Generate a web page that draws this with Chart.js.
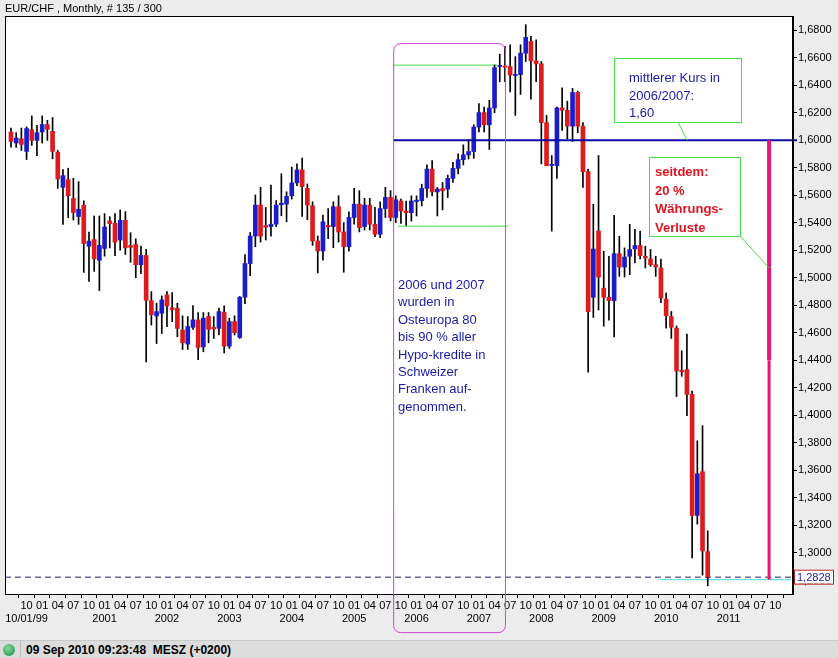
<!DOCTYPE html>
<html>
<head>
<meta charset="utf-8">
<script src="https://cdn.jsdelivr.net/npm/chart.js@4/dist/chart.umd.min.js"></script>
<style>
  body { margin: 0; width: 838px; height: 658px; background: #ececec; overflow: hidden; font-family: "Liberation Sans", Arial, sans-serif; }
  #wrap { position: absolute; left: 0; top: 0; width: 838px; height: 640px; }
  #head { position: absolute; left: 5px; top: 2px; font-size: 11px; color: #000; }
  #status { position: absolute; left: 0; top: 640px; width: 838px; height: 18px; background: #dcdcdc; border-top: 1px solid #c8c8c8; }
  #dot { position: absolute; left: 3px; top: 3px; width: 12px; height: 12px; border-radius: 50%; background: radial-gradient(circle at 40% 35%, #7fd99a, #1f8a45); }
  #stext { position: absolute; left: 26px; top: 2px; font-size: 12px; font-weight: bold; }
  #sep { position: absolute; left: 20px; top: 0; width: 1px; height: 18px; background: #bbb; }
</style>
</head>
<body>
<div id="wrap"><canvas id="chart" width="838" height="640"></canvas></div>
<div id="head">EUR/CHF , Monthly, # 135 / 300</div>
<div id="status"><div id="dot"></div><div id="sep"></div><div id="stext">09 Sep 2010 09:23:48&nbsp; MESZ (+0200)</div></div>
<script>
// monthly candles, index 0 = Jul 1999
const opens = [1.6059,1.5979,1.6010,1.5918,1.6076,1.5998,1.6059,1.6113,1.6064,1.5913,
  1.5657,1.5713,1.5576,1.5445,1.5527,1.5229,1.5278,1.5127,1.5213,1.5413,
  1.5395,1.5274,1.5418,1.5230,1.5242,1.5095,1.5162,1.4834,1.4722,1.4742,
  1.4876,1.4778,1.4778,1.4620,1.4518,1.4640,1.4694,1.4498,1.4718,1.4635,
  1.4632,1.4750,1.4503,1.4681,1.4566,1.4859,1.5103,1.5303,1.5528,1.5375,
  1.5372,1.5389,1.5535,1.5535,1.5596,1.5689,1.5784,1.5650,1.5523,1.5267,
  1.5194,1.5377,1.5372,1.5516,1.5333,1.5225,1.5438,1.5535,1.5372,1.5528,
  1.5389,1.5316,1.5503,1.5584,1.5438,1.5558,1.5485,1.5473,1.5558,1.5560,
  1.5649,1.5790,1.5624,1.5644,1.5644,1.5722,1.5795,1.5858,1.5893,1.5917,
  1.6095,1.6200,1.6112,1.6234,1.6539,1.6539,1.6534,1.6473,1.6476,1.6632,
  1.6717,1.6576,1.6554,1.6127,1.5820,1.5815,1.6234,1.6217,1.6102,1.6346,
  1.6102,1.5771,1.4858,1.5339,1.4924,1.4858,1.4834,1.5175,1.5078,1.5156,
  1.5210,1.5234,1.5156,1.5136,1.5095,1.5071,1.4845,1.4718,1.4633,1.4323,
  1.4333,1.4152,1.3273,1.3591,1.3010];
const closes = [1.5991,1.6015,1.5969,1.6084,1.5998,1.6054,1.6113,1.6079,1.5918,1.5718,
  1.5742,1.5596,1.5474,1.5498,1.5249,1.5266,1.5137,1.5235,1.5369,1.5393,
  1.5259,1.5418,1.5218,1.5225,1.5095,1.5162,1.4836,1.4731,1.4754,1.4839,
  1.4795,1.4771,1.4632,1.4527,1.4645,1.4694,1.4494,1.4706,1.4625,1.4632,
  1.4754,1.4503,1.4681,1.4601,1.4859,1.5103,1.5303,1.5528,1.5303,1.5372,
  1.5389,1.5528,1.5538,1.5591,1.5689,1.5784,1.5662,1.5528,1.5267,1.5194,
  1.5406,1.5374,1.5516,1.5333,1.5225,1.5438,1.5535,1.5364,1.5528,1.5389,
  1.5316,1.5503,1.5584,1.5438,1.5567,1.5485,1.5473,1.5558,1.5560,1.5649,
  1.5790,1.5624,1.5644,1.5636,1.5722,1.5795,1.5858,1.5893,1.5917,1.6095,
  1.6200,1.6112,1.6234,1.6527,1.6539,1.6530,1.6473,1.6473,1.6632,1.6747,
  1.6576,1.6554,1.6127,1.5815,1.5820,1.6234,1.6217,1.6102,1.6346,1.6102,
  1.5771,1.4753,1.5209,1.5005,1.4858,1.4834,1.5175,1.5078,1.5151,1.5205,
  1.5234,1.5161,1.5144,1.5095,1.5078,1.4852,1.4723,1.4640,1.4323,1.4320,
  1.4152,1.3273,1.3576,1.3015,1.2827];
const highs = [1.6088,1.6054,1.6088,1.6096,1.6176,1.6108,1.6176,1.6144,1.6164,1.5925,
  1.5786,1.5796,1.5723,1.5698,1.5559,1.5332,1.5449,1.5449,1.5466,1.5444,
  1.5466,1.5493,1.5481,1.5327,1.5283,1.5230,1.5206,1.4900,1.4815,1.4868,
  1.4900,1.4893,1.4815,1.4723,1.4718,1.4798,1.4747,1.4747,1.4747,1.4718,
  1.4779,1.4796,1.4706,1.4723,1.4864,1.5169,1.5328,1.5601,1.5657,1.5511,
  1.5674,1.5560,1.5755,1.5625,1.5804,1.5828,1.5870,1.5682,1.5552,1.5303,
  1.5455,1.5503,1.5552,1.5596,1.5401,1.5479,1.5650,1.5633,1.5577,1.5577,
  1.5511,1.5552,1.5657,1.5633,1.5596,1.5571,1.5558,1.5595,1.5595,1.5680,
  1.5820,1.5851,1.5656,1.5692,1.5746,1.5839,1.5900,1.5966,1.6005,1.6112,
  1.6266,1.6241,1.6290,1.6546,1.6625,1.6681,1.6693,1.6607,1.6693,1.6839,
  1.6754,1.6729,1.6571,1.6180,1.5888,1.6241,1.6380,1.6283,1.6376,1.6356,
  1.6127,1.5790,1.5534,1.5888,1.5192,1.5156,1.5454,1.5302,1.5217,1.5388,
  1.5351,1.5339,1.5229,1.5205,1.5156,1.5136,1.4889,1.4755,1.4650,1.4469,
  1.4591,1.4176,1.3815,1.3925,1.3161];
const lows = [1.5949,1.5947,1.5925,1.5859,1.5962,1.5888,1.5979,1.5998,1.5864,1.5649,
  1.5388,1.5437,1.5420,1.5388,1.5039,1.4973,1.5047,1.4907,1.5157,1.5217,
  1.5161,1.5200,1.5169,1.5112,1.5000,1.5030,1.4388,1.4656,1.4522,1.4595,
  1.4644,1.4681,1.4571,1.4479,1.4479,1.4625,1.4405,1.4462,1.4527,1.4559,
  1.4584,1.4454,1.4486,1.4584,1.4559,1.4811,1.5015,1.5225,1.5259,1.5274,
  1.5303,1.5372,1.5450,1.5406,1.5572,1.5669,1.5445,1.5421,1.5235,1.5035,
  1.5128,1.5284,1.5218,1.5259,1.5040,1.5194,1.5389,1.5333,1.5347,1.5347,
  1.5299,1.5291,1.5438,1.5413,1.5401,1.5395,1.5380,1.5412,1.5449,1.5522,
  1.5583,1.5595,1.5449,1.5493,1.5583,1.5692,1.5754,1.5820,1.5863,1.5868,
  1.6059,1.6059,1.5932,1.6200,1.6424,1.6424,1.6351,1.6180,1.6332,1.6571,
  1.6298,1.6424,1.5827,1.5815,1.5339,1.5722,1.6071,1.6010,1.5990,1.6054,
  1.5656,1.4314,1.4712,1.4766,1.4648,1.4692,1.4570,1.5010,1.5005,1.5022,
  1.5107,1.5136,1.5071,1.5083,1.5010,1.4819,1.4633,1.4559,1.4137,1.4284,
  1.3998,1.2964,1.3210,1.2839,1.2761];

const lastPrice = 1.2828;
const avgLevel = 1.60;
const monthNames = ["01","02","03","04","05","06","07","08","09","10","11","12"];
const startYear = 1999, startMonth = 6; // Jul
const yTickStep = 0.02;

const RED = "#dc1c1c", BLUE = "#1c1cc8";
const colors = opens.map((o, i) => closes[i] >= o ? BLUE : RED);
const wicks = opens.map((o, i) => ({ x: i, y: [lows[i], highs[i]] }));
const bodies = opens.map((o, i) => {
  let a = Math.min(o, closes[i]), b = Math.max(o, closes[i]);
  if (b - a < 0.0008) { a -= 0.0004; b += 0.0004; }
  return { x: i, y: [a, b] };
});

function monthOf(i) { return (startMonth + i) % 12; }
function yearOf(i) { return startYear + Math.floor((startMonth + i) / 12); }

const overlay = {
  id: "overlay",
  beforeDraw(chart) {
    const { ctx, chartArea: a } = chart;
    ctx.save();
    ctx.fillStyle = "#fff";
    ctx.fillRect(a.left, a.top, a.right - a.left, a.bottom - a.top);
    ctx.restore();
  },
  beforeDatasetsDraw(chart) {
    const { ctx, chartArea: a, scales: { x, y } } = chart;
    ctx.save();
    // dashed last price line
    ctx.strokeStyle = "#202070"; ctx.lineWidth = 1; ctx.setLineDash([6, 4]);
    ctx.beginPath(); ctx.moveTo(a.left, y.getPixelForValue(lastPrice) + 0.5); ctx.lineTo(a.right, y.getPixelForValue(lastPrice) + 0.5); ctx.stroke();
    ctx.setLineDash([]);
    // cyan low line
    ctx.strokeStyle = "#40d8e8";
    const yc = y.getPixelForValue(1.2806);
    ctx.beginPath(); ctx.moveTo(x.getPixelForValue(124.8), yc); ctx.lineTo(a.right - 2, yc); ctx.stroke();
    // green range lines
    ctx.strokeStyle = "#44dd44";
    let yg = y.getPixelForValue(1.6545);
    ctx.beginPath(); ctx.moveTo(x.getPixelForValue(73.5), yg); ctx.lineTo(x.getPixelForValue(93.5), yg); ctx.stroke();
    yg = y.getPixelForValue(1.5375);
    ctx.beginPath(); ctx.moveTo(x.getPixelForValue(74.4), yg); ctx.lineTo(x.getPixelForValue(95.6), yg); ctx.stroke();
    ctx.restore();
  },
  afterDraw(chart) {
    const { ctx, chartArea: a, scales: { x, y } } = chart;
    ctx.save();
    // average line 1.60
    const y60 = y.getPixelForValue(avgLevel);
    ctx.strokeStyle = "#0a0aa8"; ctx.lineWidth = 2;
    ctx.beginPath(); ctx.moveTo(x.getPixelForValue(73.5), y60); ctx.lineTo(a.right + 4, y60); ctx.stroke();
    // border
    ctx.strokeStyle = "#000"; ctx.lineWidth = 1;
    ctx.strokeRect(a.left + 0.5, a.top + 0.5, a.right - a.left - 1, a.bottom - a.top);
    // magenta rounded box 2006/2007
    ctx.strokeStyle = "#d040d8"; ctx.lineWidth = 1;
    ctx.beginPath();
    ctx.roundRect(x.getPixelForValue(73.5) + 0.5, y.getPixelForValue(1.6705) + 0.5, x.getPixelForValue(95) - x.getPixelForValue(73.5), 589, 7);
    ctx.stroke();
    // magenta vertical loss bar
    const xm = x.getPixelForValue(145.8);
    ctx.strokeStyle = "#e8147c";
    ctx.lineWidth = 4;
    ctx.beginPath(); ctx.moveTo(xm, y60); ctx.lineTo(xm, y.getPixelForValue(1.44)); ctx.stroke();
    ctx.lineWidth = 3;
    ctx.beginPath(); ctx.moveTo(xm, y.getPixelForValue(1.44)); ctx.lineTo(xm, y.getPixelForValue(1.2806)); ctx.stroke();
    // connectors
    ctx.strokeStyle = "#44dd44"; ctx.lineWidth = 1;
    ctx.beginPath(); ctx.moveTo(678, 122); ctx.lineTo(687, y60); ctx.stroke();
    ctx.beginPath(); ctx.moveTo(740, 236); ctx.lineTo(xm, 268); ctx.stroke();
    // boxes
    ctx.fillStyle = "#fff";
    ctx.fillRect(614, 58, 127, 64); ctx.strokeRect(614.5, 58.5, 127, 64);
    ctx.fillRect(649, 157, 91, 79); ctx.strokeRect(649.5, 157.5, 91, 79);
    ctx.font = "13px 'Liberation Sans', Arial, sans-serif";
    ctx.textBaseline = "alphabetic";
    ctx.fillStyle = "#1a1aa8";
    ["mittlerer Kurs in", "2006/2007:", "1,60"].forEach((t, i) => ctx.fillText(t, 629, 82 + i * 17.5));
    ctx.font = "bold 13px 'Liberation Sans', Arial, sans-serif";
    ctx.fillStyle = "#e01420";
    ["seitdem:", "20 %", "Währungs-", "Verluste"].forEach((t, i) => ctx.fillText(t, 655, 176 + i * 18.5));
    ctx.font = "13px 'Liberation Sans', Arial, sans-serif";
    ctx.fillStyle = "#1a1aa8";
    ["2006 und 2007", "wurden in", "Osteuropa 80", "bis 90 % aller", "Hypo-kredite in", "Schweizer", "Franken auf-", "genommen."]
      .forEach((t, i) => ctx.fillText(t, 398, 289 + i * 17.4));
    // last price box
    const yl = y.getPixelForValue(lastPrice);
    ctx.fillStyle = "#fff"; ctx.fillRect(794, yl - 7, 39, 14);
    ctx.strokeStyle = "#c02020"; ctx.strokeRect(794.5, yl - 6.5, 39, 14);
    ctx.fillStyle = "#1a1a90"; ctx.font = "11px 'Liberation Sans', Arial, sans-serif";
    ctx.textBaseline = "middle"; ctx.fillText("1,2828", 797, yl + 1);
    ctx.restore();
  }
};

new Chart(document.getElementById("chart"), {
  type: "bar",
  data: {
    datasets: [
      { data: wicks, backgroundColor: "#000", barThickness: 1, order: 2 },
      { data: bodies, backgroundColor: colors, barThickness: 4, order: 1 }
    ]
  },
  options: {
    responsive: false,
    animation: false,
    grouped: false,
    layout: { padding: { left: 5, top: 16, right: 0, bottom: 0 } },
    plugins: { legend: { display: false }, tooltip: { enabled: false } },
    scales: {
      x: {
        type: "linear", min: -1.15, max: 150.4,
        offset: false,
        grid: { display: true, drawOnChartArea: false, drawTicks: true, tickLength: 4, color: "#000" },
        border: { display: false },
        afterBuildTicks(s) {
          const t = [];
          for (let i = 3; i <= 148; i += 3) t.push({ value: i });
          s.ticks = t;
        },
        afterFit(s) { s.height = 46; },
        ticks: {
          autoSkip: false, maxRotation: 0, padding: 1,
          color: "#000", font: { family: "'Liberation Sans', Arial, sans-serif", size: 11 },
          callback(v) {
            const m = monthOf(v);
            let yr = "";
            if (v === 3) yr = "10/01/99";
            else if (m === 0 && yearOf(v) > 2000) yr = String(yearOf(v));
            return [monthNames[m], yr];
          }
        }
      },
      y: {
        position: "right", min: 1.2702, max: 1.6902,
        grid: { display: true, drawOnChartArea: false, tickLength: 4, color: "#000" },
        border: { display: true, color: "#000" },
        afterBuildTicks(s) {
          const t = [];
          for (let k = 0; k <= 20; k++) t.push({ value: 1.28 + k * yTickStep });
          s.ticks = t;
        },
        afterFit(s) { s.width = 45; },
        ticks: {
          padding: 1, color: "#000", font: { family: "'Liberation Sans', Arial, sans-serif", size: 11 },
          callback(v) { return v.toFixed(4).replace(".", ","); }
        }
      }
    }
  },
  plugins: [overlay]
});
</script>
</body>
</html>
